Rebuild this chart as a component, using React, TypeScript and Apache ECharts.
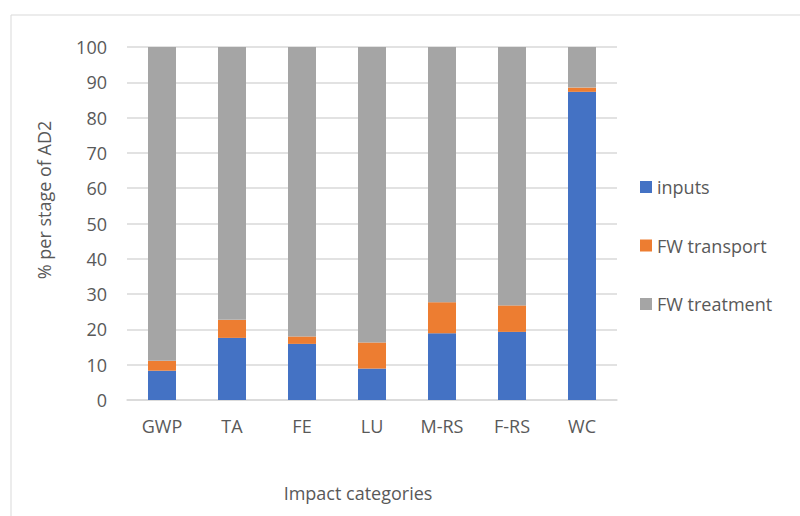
import React, { useEffect, useRef } from "react";
import * as echarts from "echarts";

const categories = ["GWP", "TA", "FE", "LU", "M-RS", "F-RS", "WC"];
const inputs = [8.3, 17.6, 15.9, 8.9, 18.9, 19.3, 87.3];
const fwTransport = [2.8, 5.1, 2.1, 7.4, 8.8, 7.5, 1.2];
const fwTreatment = [88.9, 77.3, 82.0, 83.7, 72.3, 73.2, 11.5];
const yTicks = { min: 0, max: 100, interval: 10 };

const FONT = "'Open Sans', sans-serif";
const TXT = "#595959";

export default function App() {
  const ref = useRef<HTMLDivElement>(null);
  useEffect(() => {
    const chart = echarts.init(ref.current!, null, { renderer: "svg" });
    const mk = (name: string, data: number[], color: string) => ({
      name,
      type: "bar",
      stack: "total",
      data,
      barCategoryGap: "60%",
      itemStyle: { color },
    });
    chart.setOption({
      animation: false,
      textStyle: { fontFamily: FONT },
      grid: { left: 127, right: 183, top: 47, bottom: 116 },
      xAxis: {
        type: "category",
        data: categories,
        axisTick: { show: false },
        axisLine: { lineStyle: { color: "#d9d9d9", width: 1.5 } },
        axisLabel: { color: TXT, fontSize: 18, fontFamily: FONT, margin: 17 },
      },
      yAxis: {
        type: "value",
        min: yTicks.min,
        max: yTicks.max,
        interval: yTicks.interval,
        axisLine: { show: false },
        axisTick: { show: false },
        splitLine: { lineStyle: { color: "#d9d9d9", width: 1.5 } },
        axisLabel: { color: TXT, fontSize: 18, fontFamily: FONT, margin: 20 },
      },
      legend: {
        orient: "vertical",
        left: 635,
        top: 173,
        itemWidth: 12,
        itemHeight: 12,
        itemGap: 40.5,
        icon: "rect",
        textStyle: { color: TXT, fontSize: 18, fontFamily: FONT, lineHeight: 12, padding: [0, 0, 0, 0] },
        data: ["inputs", "FW transport", "FW treatment"],
      },
      graphic: [
        {
          type: "rect",
          shape: { x: 11, y: 15, width: 800, height: 520 },
          style: { fill: "none", stroke: "#d9d9d9", lineWidth: 1 },
          silent: true,
        },
        {
          type: "text",
          x: 44,
          y: 200,
          rotation: Math.PI / 2,
          style: {
            text: "% per stage of AD2",
            fill: TXT,
            font: `18px ${FONT}`,
            align: "center",
            verticalAlign: "middle",
          },
        },
        {
          type: "text",
          x: 358,
          y: 493,
          style: {
            text: "Impact categories",
            fill: TXT,
            font: `18px ${FONT}`,
            align: "center",
            verticalAlign: "middle",
          },
        },
      ],
      series: [
        mk("inputs", inputs, "#4472C4"),
        mk("FW transport", fwTransport, "#ED7D31"),
        mk("FW treatment", fwTreatment, "#A5A5A5"),
      ],
    });
    return () => chart.dispose();
  }, []);
  return (
    <div
      ref={ref}
      style={{ position: "fixed", left: 0, top: 0, width: 800, height: 516, background: "#fff" }}
    />
  );
}
